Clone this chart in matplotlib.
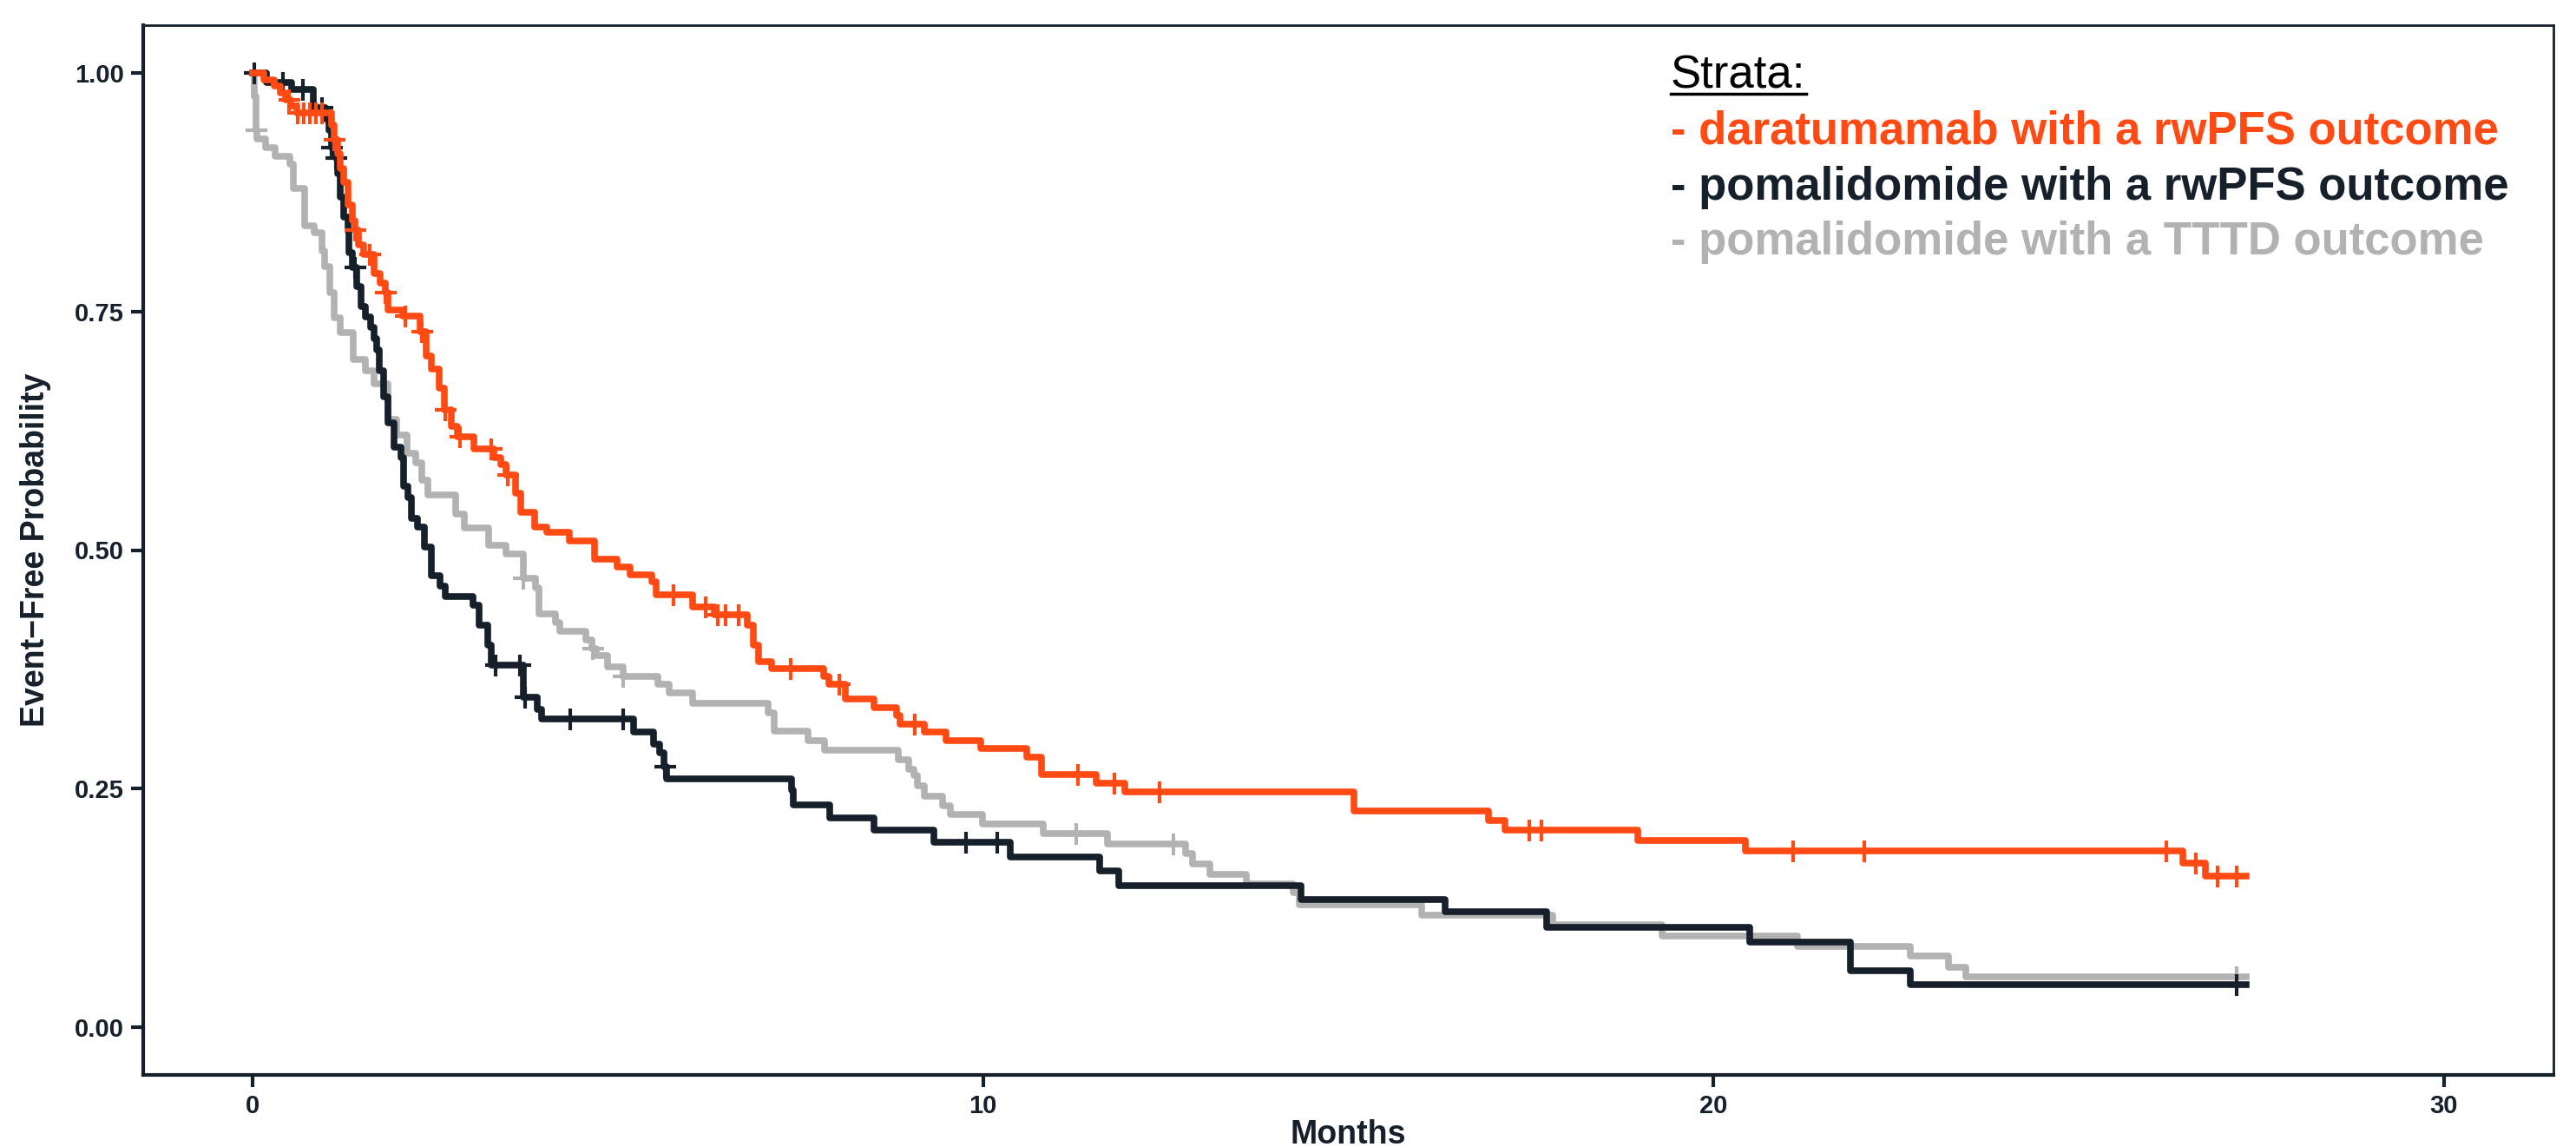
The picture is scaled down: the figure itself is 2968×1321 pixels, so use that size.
import numpy as np
import matplotlib.pyplot as plt
from matplotlib.lines import Line2D

# Kaplan-Meier step values (time in months, survival)
dara_t = [0, 0.15, 0.30, 0.38, 0.45, 0.52, 0.60, 1.08, 1.12, 1.16, 1.20, 1.24, 1.30, 1.36, 1.40,
          1.45, 1.52, 1.66, 1.74, 1.81, 1.85, 2.05, 2.29, 2.37, 2.45, 2.55, 2.62, 2.72, 2.80, 3.03,
          3.30, 3.40, 3.47, 3.60, 3.67, 3.86, 4.02, 4.34, 4.68, 4.99, 5.17, 5.46, 5.52, 6.02, 6.32,
          6.77, 6.85, 6.93, 7.10, 7.82, 7.89, 8.11, 8.50, 8.82, 8.86, 9.20, 9.49, 9.97, 10.6, 10.8,
          11.55, 11.94, 15.08, 16.92, 17.14, 18.96, 20.44, 26.43, 26.73]
dara_s = [1.0, 0.993, 0.986, 0.979, 0.972, 0.965, 0.958, 0.945, 0.93, 0.915, 0.90, 0.885, 0.862, 0.845, 0.835,
          0.82, 0.81, 0.79, 0.78, 0.77, 0.752, 0.745, 0.729, 0.703, 0.69, 0.67, 0.647, 0.63, 0.619, 0.606,
          0.597, 0.59, 0.579, 0.56, 0.54, 0.524, 0.519, 0.51, 0.49, 0.482, 0.474, 0.467, 0.453, 0.44, 0.432,
          0.421, 0.40, 0.383, 0.376, 0.368, 0.359, 0.344, 0.335, 0.327, 0.318, 0.309, 0.30, 0.292, 0.283, 0.265,
          0.256, 0.247, 0.227, 0.217, 0.207, 0.196, 0.185, 0.172, 0.158]
dara_cens = [0.50, 0.62, 0.70, 0.78, 0.86, 0.95, 1.12, 1.40, 1.60, 1.81, 2.09, 2.31, 2.64, 2.84, 3.26,
             3.49, 5.76, 6.20, 6.37, 6.47, 6.65, 7.37, 8.03, 9.06, 11.3, 11.8, 12.42, 17.48, 17.64,
             21.09, 22.06, 26.2, 26.6, 26.9, 27.16]

poma_t = [0, 0.19, 0.53, 0.83, 1.00, 1.04, 1.08, 1.14, 1.16, 1.20, 1.24, 1.30, 1.32, 1.36, 1.42,
          1.48, 1.54, 1.61, 1.66, 1.70, 1.73, 1.79, 1.85, 1.93, 2.03, 2.07, 2.12, 2.17, 2.26, 2.35,
          2.44, 2.56, 2.64, 3.01, 3.10, 3.22, 3.26, 3.71, 3.89, 3.95, 5.22, 5.49, 5.57, 5.63, 5.66,
          7.38, 7.40, 7.90, 8.50, 9.32, 10.37, 11.6, 11.86, 14.35, 16.33, 17.71, 20.5, 21.87, 22.7]
poma_s = [1.0, 0.99, 0.983, 0.964, 0.952, 0.94, 0.922, 0.911, 0.894, 0.87, 0.849, 0.834, 0.812, 0.796, 0.776,
          0.755, 0.744, 0.733, 0.722, 0.71, 0.688, 0.661, 0.633, 0.608, 0.597, 0.567, 0.555, 0.533, 0.524, 0.503,
          0.473, 0.462, 0.451, 0.442, 0.421, 0.40, 0.379, 0.346, 0.333, 0.323, 0.309, 0.297, 0.288, 0.273, 0.26,
          0.248, 0.233, 0.219, 0.207, 0.194, 0.178, 0.164, 0.148, 0.134, 0.121, 0.105, 0.089, 0.059, 0.045]
poma_cens = [0.02, 0.41, 0.69, 0.95, 1.08, 1.14, 1.40, 3.32, 3.66, 3.73, 4.35, 5.07, 5.645, 9.77, 10.19, 27.16]

tttd_t = [0, 0.02, 0.05, 0.06, 0.18, 0.31, 0.51, 0.55, 0.71, 0.84, 0.95, 0.98, 1.06, 1.12, 1.20,
          1.37, 1.54, 1.66, 1.85, 1.97, 2.11, 2.23, 2.32, 2.40, 2.78, 2.90, 3.23, 3.47, 3.71, 3.87,
          3.92, 4.15, 4.20, 4.56, 4.64, 4.70, 4.86, 5.07, 5.55, 5.70, 6.02, 7.06, 7.14, 7.60, 7.83,
          8.84, 8.98, 9.05, 9.10, 9.20, 9.44, 9.55, 9.99, 10.82, 11.7, 12.77, 12.87, 13.1, 13.6, 14.25,
          14.33, 16.0, 17.8, 19.3, 21.15, 22.69, 23.22, 23.46]
tttd_s = [1.0, 0.975, 0.94, 0.931, 0.922, 0.913, 0.904, 0.879, 0.84, 0.833, 0.813, 0.797, 0.77, 0.743, 0.728,
          0.70, 0.688, 0.674, 0.637, 0.621, 0.601, 0.591, 0.573, 0.558, 0.538, 0.523, 0.505, 0.496, 0.47, 0.46,
          0.433, 0.424, 0.415, 0.406, 0.397, 0.389, 0.378, 0.368, 0.359, 0.35, 0.339, 0.329, 0.31, 0.30, 0.29,
          0.28, 0.27, 0.264, 0.253, 0.242, 0.232, 0.223, 0.213, 0.203, 0.192, 0.182, 0.171, 0.16, 0.15, 0.141,
          0.128, 0.117, 0.107, 0.096, 0.085, 0.075, 0.063, 0.053]
tttd_cens = [0.05, 3.71, 4.66, 5.07, 11.27, 12.6, 27.16]

end_time = 27.29

strata = ['- daratumamab with a rwPFS outcome',
          '- pomalidomide with a rwPFS outcome',
          '- pomalidomide with a TTTD outcome']
colors = ['#FF4A14', '#15202B', '#B2B2B2']

x_ticks = [0, 10, 20, 30]
y_ticks = [0.0, 0.25, 0.5, 0.75, 1.0]

dark = '#15202B'
font = 'Liberation Sans'

fig = plt.figure(figsize=(29.68, 13.21), dpi=100)
ax = fig.add_axes([165 / 2968, 83 / 1321, 2777 / 2968, 1209 / 1321])

curves = [(dara_t, dara_s, dara_cens), (poma_t, poma_s, poma_cens), (tttd_t, tttd_s, tttd_cens)]
# draw gray first, then black, then orange on top
for idx in [2, 1, 0]:
    t, s, cens = curves[idx]
    t = np.append(t, end_time)
    s = np.append(s, s[-1])
    ax.step(t, s, where='post', color=colors[idx], lw=5.5, solid_joinstyle='round', zorder=3 + (2 - idx))
    cens = np.array(cens)
    cy = s[np.searchsorted(t, cens, side='right') - 1]
    ax.plot(cens, cy, ls='none', marker='+', ms=18, mew=3, color=colors[idx], zorder=3 + (2 - idx))

ax.set_xlim(-1.5, 31.5)
ax.set_ylim(-0.05, 1.05)
ax.set_xticks(x_ticks)
ax.set_yticks(y_ticks)
ax.set_yticklabels(['0.00', '0.25', '0.50', '0.75', '1.00'])
for lab in ax.get_yticklabels() + ax.get_xticklabels():
    lab.set_fontfamily(font)
    lab.set_fontweight('bold')
    lab.set_fontsize(21)
    lab.set_color(dark)
ax.tick_params(axis='both', length=10, width=3, color=dark, pad=6)

for side in ['left', 'bottom']:
    ax.spines[side].set_linewidth(3)
    ax.spines[side].set_color(dark)
for side in ['top', 'right']:
    ax.spines[side].set_linewidth(2)
    ax.spines[side].set_color(dark)

# x title sits at the very bottom edge of the figure
fig.text((165 + 2777 / 2) / 2968, 4 / 1321, 'Months', fontfamily=font, fontweight='bold',
         fontsize=27, color=dark, ha='center', va='baseline')
ax.set_ylabel('Event\u2212Free Probability', fontfamily=font, fontweight='bold',
              fontsize=27, color=dark)
ax.yaxis.set_label_coords(-0.038, 0.5)

# legend text block
x0 = 1925 / 2968
head = fig.text(x0, 1 - 102 / 1321, 'Strata:', fontfamily=font, fontsize=38,
                color='black', va='baseline')
baselines = [166, 230, 293]
for label, col, yb in zip(strata, colors, baselines):
    fig.text(x0, 1 - yb / 1321, label, fontfamily=font, fontweight='bold',
             fontsize=38, color=col, va='baseline')

fig.canvas.draw()
bb = head.get_window_extent()
fig.add_artist(Line2D([bb.x0 / 2968, bb.x1 / 2968], [1 - 108 / 1321, 1 - 108 / 1321],
                      transform=fig.transFigure, color='black', lw=2.5))

fig.savefig('out.png', dpi=100)
